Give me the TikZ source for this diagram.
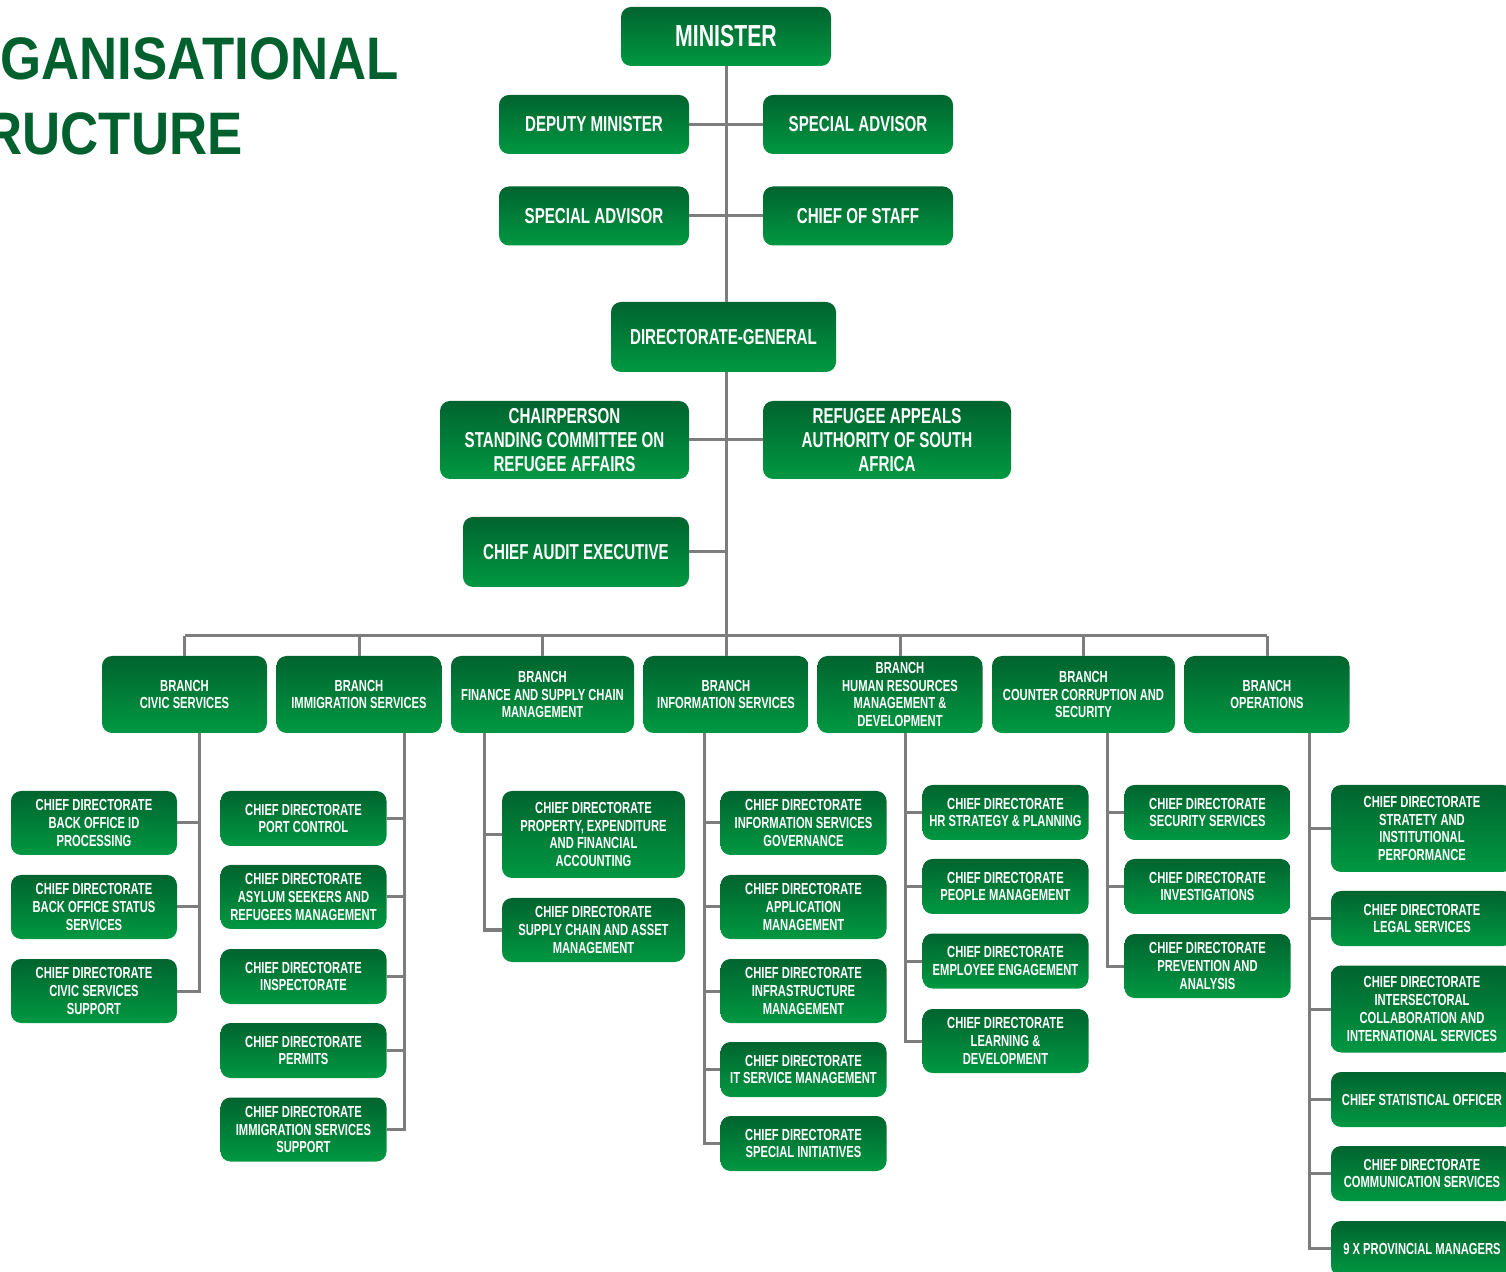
\documentclass[tikz,border=0pt]{standalone}
\usepackage{fontspec}
\usepackage{xcolor}
\usepackage{tikz}
\usetikzlibrary{positioning,calc}
\newfontfamily\condfont{Liberation Sans}[FakeStretch=0.7]
\newfontfamily\titlefont{Liberation Sans}[FakeStretch=0.88]
\definecolor{dhadark}{RGB}{0,100,46}
\definecolor{dhalight}{RGB}{0,152,66}
\definecolor{dhatitle}{RGB}{0,97,46}
\definecolor{linkgrey}{RGB}{125,125,125}
\tikzset{
  box/.style={rounded corners=5pt, top color=dhadark, bottom color=dhalight,
    text=white, align=center, inner sep=0pt,
    font=\condfont\bfseries\fontsize{8}{8.9}\selectfont},
  headbox/.style={box, minimum width=105pt, minimum height=29.5pt,
    font=\condfont\bfseries\fontsize{15.2}{17}\selectfont},
  lvlbox/.style={box, minimum width=95pt, minimum height=29.5pt,
    font=\condfont\bfseries\fontsize{10.8}{11.75}\selectfont},
  subbox/.style={box, font=\condfont\bfseries\fontsize{10.8}{11.9}\selectfont},
  branchbox/.style={box, minimum width=82.5pt, minimum height=38.5pt},
  cdbox/.style={box, minimum width=83pt},
  cds/.style={cdbox, minimum height=27.5pt},
  cdm/.style={cdbox, minimum height=32pt},
  cdl/.style={cdbox, minimum height=43.5pt},
  titletext/.style={inner sep=0pt, text=dhatitle,
    font=\titlefont\bfseries\fontsize{30}{36}\selectfont},
  link/.style={draw=linkgrey, line width=1.5pt}
}
\begin{document}
\begin{tikzpicture}[x=0.5pt,y=-0.5pt]
    \useasboundingbox (0,0) rectangle (1506,1272);
    \clip (0,0) rectangle (1506,1272);

    % Title
    \node[titletext, anchor=base east] (title1) at (399,80) {ORGANISATIONAL};
    \node[titletext, anchor=base east] (title2) at (243,155) {STRUCTURE};

    % Executive
    \node[headbox] (minister) at (726,36.5) {MINISTER};
    \node[lvlbox] (deputy) at (594,124.5) {DEPUTY MINISTER};
    \node[lvlbox] (advisorR) at (858,124.5) {SPECIAL ADVISOR};
    \node[lvlbox] (advisorL) at (594,216) {SPECIAL ADVISOR};
    \node[lvlbox] (staff) at (858,216) {CHIEF OF STAFF};
    \node[lvlbox, minimum width=112.5pt, minimum height=35pt] (dg) at (723.5,337) {DIRECTORATE-GENERAL};
    \node[subbox, minimum width=124.5pt, minimum height=39pt] (chair) at (564.5,440) {CHAIRPERSON\\STANDING COMMITTEE ON\\REFUGEE AFFAIRS};
    \node[subbox, minimum width=124pt, minimum height=39pt] (appeals) at (887,440) {REFUGEE APPEALS\\AUTHORITY OF SOUTH\\AFRICA};
    \node[subbox, minimum width=113pt, minimum height=35pt] (audit) at (576,552) {CHIEF AUDIT EXECUTIVE};
    \coordinate (bus) at (726,636);

    \draw[link] (minister.south) -- (minister.south |- dg.north);
    \draw[link] (minister.south |- dg.south) -- (bus);
    \draw[link] (deputy.east) -- (advisorR.west);
    \draw[link] (advisorL.east) -- (staff.west);
    \draw[link] (chair.east) -- (appeals.west);
    \draw[link] (audit.east) -- (audit.east -| bus);

    % Branches
    \node[branchbox] (civic) at (184.5,694.5) {BRANCH\\CIVIC SERVICES};
    \node[branchbox] (immig) at (359,694.5) {BRANCH\\IMMIGRATION SERVICES};
    \node[branchbox, minimum width=91.5pt] (finance) at (542.5,694.5) {BRANCH\\FINANCE AND SUPPLY CHAIN\\MANAGEMENT};
    \node[branchbox] (info) at (726,694.5) {BRANCH\\INFORMATION SERVICES};
    \node[branchbox] (hr) at (900,694.5) {BRANCH\\HUMAN RESOURCES\\MANAGEMENT \&\\DEVELOPMENT};
    \node[branchbox, minimum width=91.5pt] (counter) at (1083.5,694.5) {BRANCH\\COUNTER CORRUPTION AND\\SECURITY};
    \node[branchbox] (ops) at (1267,694.5) {BRANCH\\OPERATIONS};

    \draw[link] (civic.north |- bus) -- (ops.north |- bus);
    \foreach \b in {civic,immig,finance,info,hr,counter,ops}
        \draw[link] (\b.north) -- (\b.north |- bus);

    % Civic services
    \node[cdm] (civA) at (94,823) {CHIEF DIRECTORATE\\BACK OFFICE ID\\PROCESSING};
    \node[cdm] (civB) at (94,907) {CHIEF DIRECTORATE\\BACK OFFICE STATUS\\SERVICES};
    \node[cdm] (civC) at (94,991) {CHIEF DIRECTORATE\\CIVIC SERVICES\\SUPPORT};
    \coordinate (civicbar) at (199,733);
    \draw[link] (civicbar) |- (civC.east);
    \foreach \c in {civA,civB}
        \draw[link] (\c.east) -- (\c.east -| civicbar);

    % Immigration services
    \node[cds] (immA) at (303.5,818.5) {CHIEF DIRECTORATE\\PORT CONTROL};
    \node[cdm] (immB) at (303.5,897) {CHIEF DIRECTORATE\\ASYLUM SEEKERS AND\\REFUGEES MANAGEMENT};
    \node[cds] (immC) at (303.5,976.5) {CHIEF DIRECTORATE\\INSPECTORATE};
    \node[cds] (immD) at (303.5,1050.5) {CHIEF DIRECTORATE\\PERMITS};
    \node[cdm] (immE) at (303.5,1129.5) {CHIEF DIRECTORATE\\IMMIGRATION SERVICES\\SUPPORT};
    \coordinate (immigbar) at (404,733);
    \draw[link] (immigbar) |- (immE.east);
    \foreach \c in {immA,immB,immC,immD}
        \draw[link] (\c.east) -- (\c.east -| immigbar);

    % Finance and supply chain
    \node[cdl, minimum width=91.5pt] (finA) at (593.5,834.5) {CHIEF DIRECTORATE\\PROPERTY, EXPENDITURE\\AND FINANCIAL\\ACCOUNTING};
    \node[cdm, minimum width=91.5pt] (finB) at (593.5,930) {CHIEF DIRECTORATE\\SUPPLY CHAIN AND ASSET\\MANAGEMENT};
    \coordinate (finbar) at (484,733);
    \draw[link] (finbar) |- (finB.west);
    \draw[link] (finA.west) -- (finA.west -| finbar);

    % Information services
    \node[cdm] (infA) at (803.5,823) {CHIEF DIRECTORATE\\INFORMATION SERVICES\\GOVERNANCE};
    \node[cdm] (infB) at (803.5,907) {CHIEF DIRECTORATE\\APPLICATION\\MANAGEMENT};
    \node[cdm] (infC) at (803.5,991) {CHIEF DIRECTORATE\\INFRASTRUCTURE\\MANAGEMENT};
    \node[cds] (infD) at (803.5,1069.5) {CHIEF DIRECTORATE\\IT SERVICE MANAGEMENT};
    \node[cds] (infE) at (803.5,1143.5) {CHIEF DIRECTORATE\\SPECIAL INITIATIVES};
    \coordinate (infobar) at (704,733);
    \draw[link] (infobar) |- (infE.west);
    \foreach \c in {infA,infB,infC,infD}
        \draw[link] (\c.west) -- (\c.west -| infobar);

    % Human resources
    \node[cds] (hrA) at (1005.5,812.5) {CHIEF DIRECTORATE\\HR STRATEGY \& PLANNING};
    \node[cds] (hrB) at (1005.5,886.5) {CHIEF DIRECTORATE\\PEOPLE MANAGEMENT};
    \node[cds] (hrC) at (1005.5,961) {CHIEF DIRECTORATE\\EMPLOYEE ENGAGEMENT};
    \node[cdm] (hrD) at (1005.5,1041) {CHIEF DIRECTORATE\\LEARNING \&\\DEVELOPMENT};
    \coordinate (hrbar) at (905,733);
    \draw[link] (hrbar) |- (hrD.west);
    \foreach \c in {hrA,hrB,hrC}
        \draw[link] (\c.west) -- (\c.west -| hrbar);

    % Counter corruption
    \node[cds] (ccA) at (1207.5,812.5) {CHIEF DIRECTORATE\\SECURITY SERVICES};
    \node[cds] (ccB) at (1207.5,886.5) {CHIEF DIRECTORATE\\INVESTIGATIONS};
    \node[cdm] (ccC) at (1207.5,966) {CHIEF DIRECTORATE\\PREVENTION AND\\ANALYSIS};
    \coordinate (counterbar) at (1107,733);
    \draw[link] (counterbar) |- (ccC.west);
    \foreach \c in {ccA,ccB}
        \draw[link] (\c.west) -- (\c.west -| counterbar);

    % Operations
    \node[cdl, minimum width=91pt] (opA) at (1422,828.5) {CHIEF DIRECTORATE\\STRATETY AND\\INSTITUTIONAL\\PERFORMANCE};
    \node[cds, minimum width=91pt] (opB) at (1422,918.5) {CHIEF DIRECTORATE\\LEGAL SERVICES};
    \node[cdl, minimum width=91pt] (opC) at (1422,1009) {CHIEF DIRECTORATE\\INTERSECTORAL\\COLLABORATION AND\\INTERNATIONAL SERVICES};
    \node[cds, minimum width=91pt] (opD) at (1422,1099.5) {CHIEF STATISTICAL OFFICER};
    \node[cds, minimum width=91pt] (opE) at (1422,1173.5) {CHIEF DIRECTORATE\\COMMUNICATION SERVICES};
    \node[cds, minimum width=91pt] (opF) at (1422,1248.5) {9 X PROVINCIAL MANAGERS};
    \coordinate (opsbar) at (1309,733);
    \draw[link] (opsbar) |- (opF.west);
    \foreach \c in {opA,opB,opC,opD,opE}
        \draw[link] (\c.west) -- (\c.west -| opsbar);
\end{tikzpicture}
\end{document}
